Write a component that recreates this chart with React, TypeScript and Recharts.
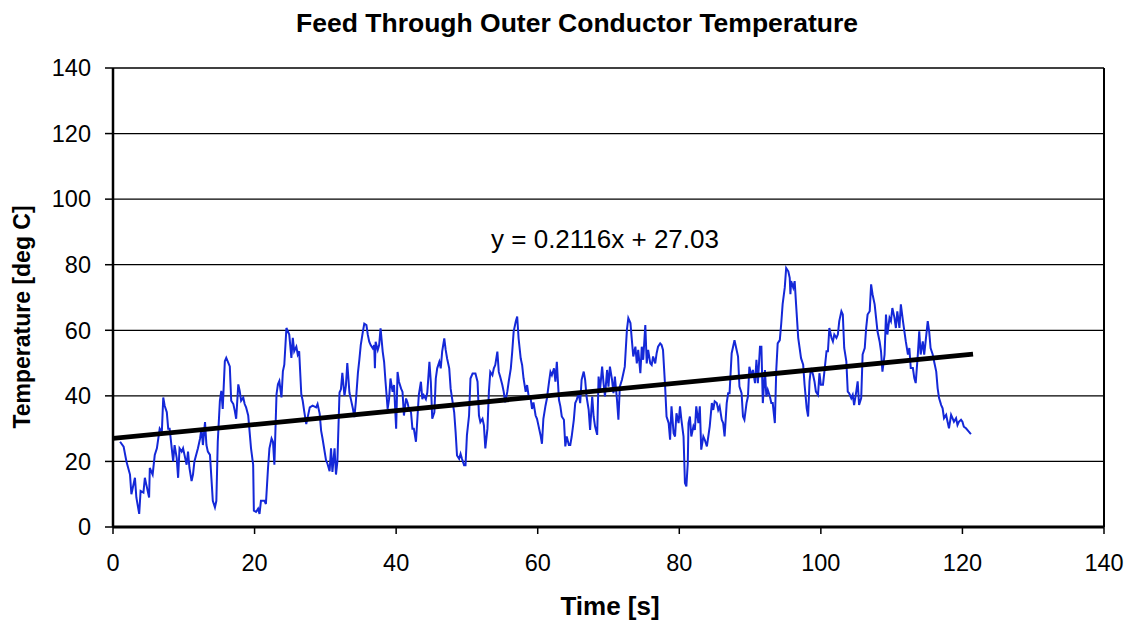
import { LineChart, Line, XAxis, YAxis, CartesianGrid, ReferenceLine } from "recharts";

// [time s, temperature deg C], split by time range
const SEG_0_31: [number, number][] = [
  [1.0, 26], [1.5, 24.5], [1.9, 20], [2.4, 16], [2.6, 10], [3.1, 15], [3.3, 9], [3.7, 4], [3.9, 11],
  [4.3, 10.5], [4.5, 15], [4.7, 13], [5.1, 9], [5.2, 18], [5.6, 16], [5.9, 22], [6.2, 24], [6.6, 30],
  [6.9, 29], [7.1, 39.5], [7.3, 37], [7.6, 35], [7.8, 30], [8.0, 30], [8.3, 24], [8.5, 20], [8.7, 25],
  [9.0, 21], [9.2, 15], [9.4, 24], [9.7, 23], [9.9, 24], [10.1, 22], [10.4, 19], [10.6, 23], [10.8, 18],
  [11.1, 14], [11.3, 16], [11.5, 20], [12.0, 24], [12.3, 27], [12.5, 30], [12.7, 25], [13.0, 32],
  [13.2, 25], [13.4, 23], [13.7, 22], [13.9, 15], [14.1, 8], [14.4, 6], [14.6, 8], [14.8, 26],
  [15.1, 38.5], [15.3, 41.5], [15.5, 36], [15.8, 50.6], [16.0, 51.6], [16.5, 49], [16.7, 38.5],
  [17.0, 37.5], [17.2, 35.5], [17.4, 33], [17.7, 43.5], [17.9, 41.5], [18.1, 38.5], [18.4, 39.5],
  [18.6, 37.5], [18.8, 36.5], [19.1, 34], [19.3, 29], [19.5, 24], [19.8, 19], [19.9, 5], [20.2, 4.6],
  [20.5, 5.6], [20.7, 4], [20.9, 8], [21.4, 8], [21.6, 7], [21.9, 18], [22.1, 24], [22.4, 27],
  [22.6, 26], [22.8, 19], [23.1, 40.5], [23.3, 43.5], [23.5, 44.5], [23.8, 39.5], [24.0, 47.5],
  [24.2, 49.5], [24.5, 60.7], [24.7, 59.7], [24.9, 58.7], [25.2, 51.6], [25.4, 57.7], [25.6, 53.6],
  [25.9, 55], [26.1, 52.6], [26.3, 53.6], [26.6, 40.5], [26.8, 38.5], [27.0, 35.5], [27.3, 31.4],
  [27.8, 36.5], [28.2, 37], [28.7, 36.5], [28.9, 37.5], [29.2, 34.5], [29.4, 29.4], [29.6, 27],
  [30.1, 20.3], [30.3, 19.3], [30.6, 17], [30.8, 24], [31.0, 16.8],
];

const SEG_31_63: [number, number][] = [
  [31.3, 24], [31.5, 16], [31.7, 20], [32.0, 41], [32.2, 42], [32.4, 47], [32.7, 40], [32.9, 43],
  [33.1, 50], [33.4, 41], [33.6, 39], [33.9, 36], [34.1, 33.5], [34.3, 38], [34.6, 47], [34.8, 51],
  [35.0, 55.5], [35.3, 59.6], [35.5, 62], [35.8, 61.6], [36.0, 58.6], [36.2, 56.5], [36.4, 55.5],
  [36.7, 54.5], [36.9, 55.5], [37.0, 48.4], [37.1, 56.5], [37.4, 54], [37.6, 55.5], [37.8, 60.6],
  [38.1, 53.5], [38.3, 50.4], [38.5, 44.3], [38.8, 36], [39.0, 39], [39.2, 45.3], [39.5, 41.2],
  [39.7, 43.3], [40.0, 30], [40.2, 47.3], [40.4, 44.3], [40.7, 42.2], [40.9, 41.2], [41.1, 34],
  [41.4, 39.2], [41.6, 38], [41.8, 36], [42.1, 35], [42.3, 30], [42.5, 30], [42.8, 26], [43.0, 33],
  [43.2, 40.2], [43.5, 44.3], [43.7, 39], [43.9, 40.2], [44.2, 39], [44.4, 41], [44.7, 50.4],
  [44.9, 44.3], [45.1, 33], [45.4, 35], [45.6, 45.3], [45.8, 48.4], [46.1, 50.4], [46.3, 48.4],
  [46.5, 53.5], [46.8, 57.5], [47.0, 54], [47.2, 51.4], [47.5, 48.4], [47.7, 42.2], [47.9, 39.2],
  [48.2, 35], [48.4, 29], [48.6, 21.8], [48.9, 20.8], [49.1, 22.3], [49.3, 20.8], [49.6, 18.8],
  [49.8, 18.8], [50.0, 28], [50.3, 34], [50.5, 45.3], [50.8, 46.8], [51.2, 46.8], [51.5, 44.3],
  [51.7, 34], [51.9, 32], [52.2, 33], [52.4, 31], [52.6, 24], [52.9, 30], [53.1, 41.2], [53.3, 47.3],
  [53.6, 46.3], [53.8, 48.4], [54.0, 49.4], [54.3, 53.5], [54.5, 47.3], [54.7, 45.8], [55.0, 43.3],
  [55.2, 41.2], [55.4, 38], [55.7, 41.2], [55.9, 44.3], [56.2, 48.4], [56.4, 53.5], [56.6, 59.6],
  [56.9, 62.7], [57.1, 64.2], [57.3, 57.5], [57.6, 51.4], [57.8, 49.4], [58.0, 45.3], [58.3, 41.2],
  [58.5, 43.3], [58.7, 40.2], [59.0, 39.2], [59.2, 36], [59.4, 38], [59.7, 34], [59.9, 33], [60.1, 31],
  [60.4, 28], [60.6, 25.4], [60.8, 33], [61.1, 37], [61.3, 39.2], [61.6, 44.3], [61.8, 47.3],
  [62.0, 46.3], [62.3, 48.4], [62.5, 44.3], [62.7, 50.4],
];

const SEG_63_95: [number, number][] = [
  [63.0, 38.8], [63.2, 36.8], [63.4, 33.7], [63.7, 32.7], [63.9, 24.6], [64.1, 27.6], [64.4, 25],
  [64.6, 25], [64.8, 27.6], [65.1, 32.7], [65.3, 37.8], [65.5, 38.8], [65.8, 40.8], [66.0, 37.8],
  [66.2, 44.9], [66.5, 47.4], [66.7, 44.9], [66.9, 39.8], [67.2, 35.7], [67.4, 29.6], [67.7, 39.8],
  [67.9, 33.7], [68.1, 30.7], [68.4, 28.1], [68.6, 45.9], [68.8, 41.8], [69.1, 48.9], [69.3, 43.9],
  [69.5, 39.8], [69.8, 47.9], [70.0, 42.8], [70.2, 48.9], [70.5, 44.9], [70.7, 40.8], [70.9, 45.9],
  [71.2, 38.8], [71.4, 32.7], [71.6, 42.8], [71.9, 44.9], [72.1, 46.9], [72.3, 48.9], [72.6, 60.1],
  [72.8, 63.7], [73.1, 62.2], [73.3, 57], [73.5, 52], [73.8, 55], [74.0, 49.9], [74.2, 54],
  [74.5, 46.9], [74.7, 55], [74.9, 51], [75.2, 61.6], [75.4, 49.9], [75.6, 54], [75.9, 49.9],
  [76.1, 49.4], [76.3, 52], [76.6, 49.9], [76.8, 53], [77.0, 55], [77.3, 56], [77.5, 55.5], [77.7, 54],
  [78.0, 42.8], [78.2, 33.7], [78.5, 31.7], [78.7, 26.6], [78.9, 36.8], [79.2, 28.6], [79.4, 27.6],
  [79.6, 34.7], [79.9, 31.7], [80.1, 36.8], [80.3, 32.7], [80.6, 27.6], [80.7, 20.5], [80.8, 13.4],
  [81.0, 12.4], [81.2, 19.5], [81.3, 31.7], [81.5, 33.7], [81.7, 27.6], [82.0, 30.7], [82.2, 29.6],
  [82.4, 36.8], [82.7, 31.7], [82.9, 36.8], [83.1, 23.6], [83.4, 27.6], [83.6, 26.6], [83.9, 24.6],
  [84.1, 27.6], [84.3, 30.7], [84.6, 37.8], [84.8, 35.7], [85.0, 38.3], [85.3, 37.8], [85.5, 35.7],
  [85.7, 36.8], [86.0, 32.7], [86.2, 31.7], [86.4, 27.6], [86.7, 37.8], [86.9, 40.8], [87.1, 40.8],
  [87.4, 53], [87.6, 55], [87.8, 57], [88.1, 54], [88.3, 52], [88.5, 42.8], [88.8, 40.8], [89.0, 33.7],
  [89.2, 32.7], [89.5, 37.8], [89.7, 39.8], [89.9, 48.9], [90.2, 45.9], [90.4, 47.9], [90.7, 43.9],
  [90.9, 51], [91.1, 43.9], [91.4, 55], [91.6, 55], [91.8, 37.8], [92.1, 47.9], [92.3, 39.8],
  [92.5, 41.8], [92.8, 39.8], [93.0, 37.8], [93.2, 37.8], [93.5, 31.7], [93.7, 47.9], [93.9, 56],
  [94.2, 57], [94.4, 62], [94.6, 68],
];

const SEG_95_122: [number, number][] = [
  [94.9, 73], [95.1, 79], [95.4, 78], [95.6, 76], [95.7, 71], [95.8, 75], [96.1, 73], [96.3, 75],
  [96.5, 67.9], [96.8, 57.7], [97.0, 54.6], [97.2, 51.5], [97.5, 49.5], [97.7, 43.4], [98.0, 36.2],
  [98.2, 33.7], [98.4, 44.4], [98.6, 48.5], [98.9, 46.4], [99.1, 44.4], [99.3, 41.3], [99.6, 40.3],
  [99.8, 46.9], [100.0, 43.4], [100.3, 43.4], [100.5, 47.4], [100.8, 53.6], [101.0, 53.6],
  [101.2, 60.7], [101.5, 57.7], [101.7, 56.6], [101.9, 58.7], [102.2, 57.7], [102.4, 58.7],
  [102.6, 62.8], [102.9, 65.8], [103.1, 64.8], [103.3, 54.6], [103.6, 50.5], [103.8, 41.3],
  [104.0, 40.8], [104.3, 39.3], [104.5, 40.3], [104.7, 37.2], [105.0, 41.3], [105.2, 44.4],
  [105.4, 37.2], [105.7, 39.3], [105.9, 52.6], [106.2, 54.6], [106.4, 60.7], [106.6, 64.8],
  [106.9, 65.8], [107.1, 74], [107.3, 71], [107.6, 67.9], [107.8, 63.8], [108.0, 59.7], [108.3, 56.6],
  [108.5, 53.6], [108.7, 47.4], [109.0, 52.6], [109.2, 64.8], [109.4, 58.7], [109.7, 63.8],
  [109.9, 62.8], [110.1, 66.8], [110.4, 63.8], [110.6, 60.7], [110.8, 65.8], [111.1, 60.7],
  [111.3, 67.9], [111.6, 62.8], [111.8, 59.7], [112.0, 56.6], [112.3, 52.6], [112.5, 54.6],
  [112.7, 48.5], [113.0, 48.5], [113.2, 45.4], [113.4, 43.9], [113.7, 52.6], [113.9, 59.7],
  [114.1, 52.6], [114.4, 56.6], [114.6, 52.6], [114.8, 56.6], [115.1, 62.8], [115.3, 59.7],
  [115.5, 54.6], [115.8, 52.6], [116.0, 50.5], [116.3, 47.4], [116.5, 42.3], [116.7, 39.3],
  [117.0, 37.2], [117.2, 36.2], [117.4, 33.2], [117.7, 34.2], [117.9, 32.1], [118.1, 30.1],
  [118.4, 34.2], [118.6, 33.2], [118.8, 32.1], [119.1, 33.2], [119.3, 31.1], [119.5, 32.1],
  [119.8, 32.7], [120.0, 32.1], [120.2, 30.6], [120.5, 30.1], [120.9, 29.1], [121.2, 28.3],
];

// linear trend y = 0.2116x + 27.03, end points
const TREND_T = [0, 121.5];
const TREND_V = [27.03, 52.74];

const X_TICKS = [0, 20, 40, 60, 80, 100, 120, 140];
const Y_TICKS = [0, 20, 40, 60, 80, 100, 120, 140];

const FONT = "'Liberation Sans', Arial, Helvetica, sans-serif";
const W = 1131;
const H = 622;

const readings = [...SEG_0_31, ...SEG_31_63, ...SEG_63_95, ...SEG_95_122].map(([t, v]) => ({ t, temp: v }));
const trend = TREND_T.map((t, i) => ({ t, temp: TREND_V[i] }));

export default function App() {
  return (
    <div style={{ position: "absolute", left: 0, top: 0, width: W, height: H, background: "#fff", fontFamily: FONT, color: "#000" }}>
      <div style={{ position: "absolute", left: 577, top: 10, transform: "translateX(-50%)", fontWeight: 700, fontSize: 26.5, lineHeight: 1, whiteSpace: "nowrap" }}>
        Feed Through Outer Conductor Temperature
      </div>
      <LineChart width={W} height={H} margin={{ top: 68, right: 27, bottom: 65, left: 53 }}>
        <CartesianGrid vertical={false} stroke="#000" strokeWidth={1.3} />
        <XAxis
          type="number"
          dataKey="t"
          domain={[0, 140]}
          ticks={X_TICKS}
          height={30}
          tickSize={7}
          tickMargin={20}
          axisLine={{ stroke: "#000", strokeWidth: 3 }}
          tickLine={{ stroke: "#000", strokeWidth: 1.5 }}
          tick={{ fill: "#000", fontSize: 23.5, fontFamily: FONT }}
          allowDataOverflow
        />
        <YAxis
          type="number"
          domain={[0, 140]}
          ticks={Y_TICKS}
          width={60}
          tickSize={8}
          tickMargin={14}
          axisLine={{ stroke: "#000", strokeWidth: 2.5 }}
          tickLine={{ stroke: "#000", strokeWidth: 1.5 }}
          tick={{ fill: "#000", fontSize: 23.5, fontFamily: FONT }}
          allowDataOverflow
        />
        <ReferenceLine x={140} stroke="#000" strokeWidth={2} />
        <Line
          data={readings}
          dataKey="temp"
          type="linear"
          stroke="#1428d8"
          strokeWidth={2}
          dot={false}
          isAnimationActive={false}
        />
        <Line
          data={trend}
          dataKey="temp"
          type="linear"
          stroke="#000"
          strokeWidth={4.8}
          dot={false}
          isAnimationActive={false}
        />
      </LineChart>
      <div style={{ position: "absolute", left: 605, top: 226, transform: "translateX(-50%)", fontSize: 26, lineHeight: 1, whiteSpace: "nowrap" }}>
        y = 0.2116x + 27.03
      </div>
      <div style={{ position: "absolute", left: 610, top: 593, transform: "translateX(-50%)", fontSize: 26, fontWeight: 700, lineHeight: 1, whiteSpace: "nowrap" }}>
        Time [s]
      </div>
      <div style={{ position: "absolute", left: 22, top: 317, transform: "translate(-50%, -50%) rotate(-90deg)", fontSize: 23, fontWeight: 700, lineHeight: 1, whiteSpace: "nowrap" }}>
        Temperature [deg C]
      </div>
    </div>
  );
}
